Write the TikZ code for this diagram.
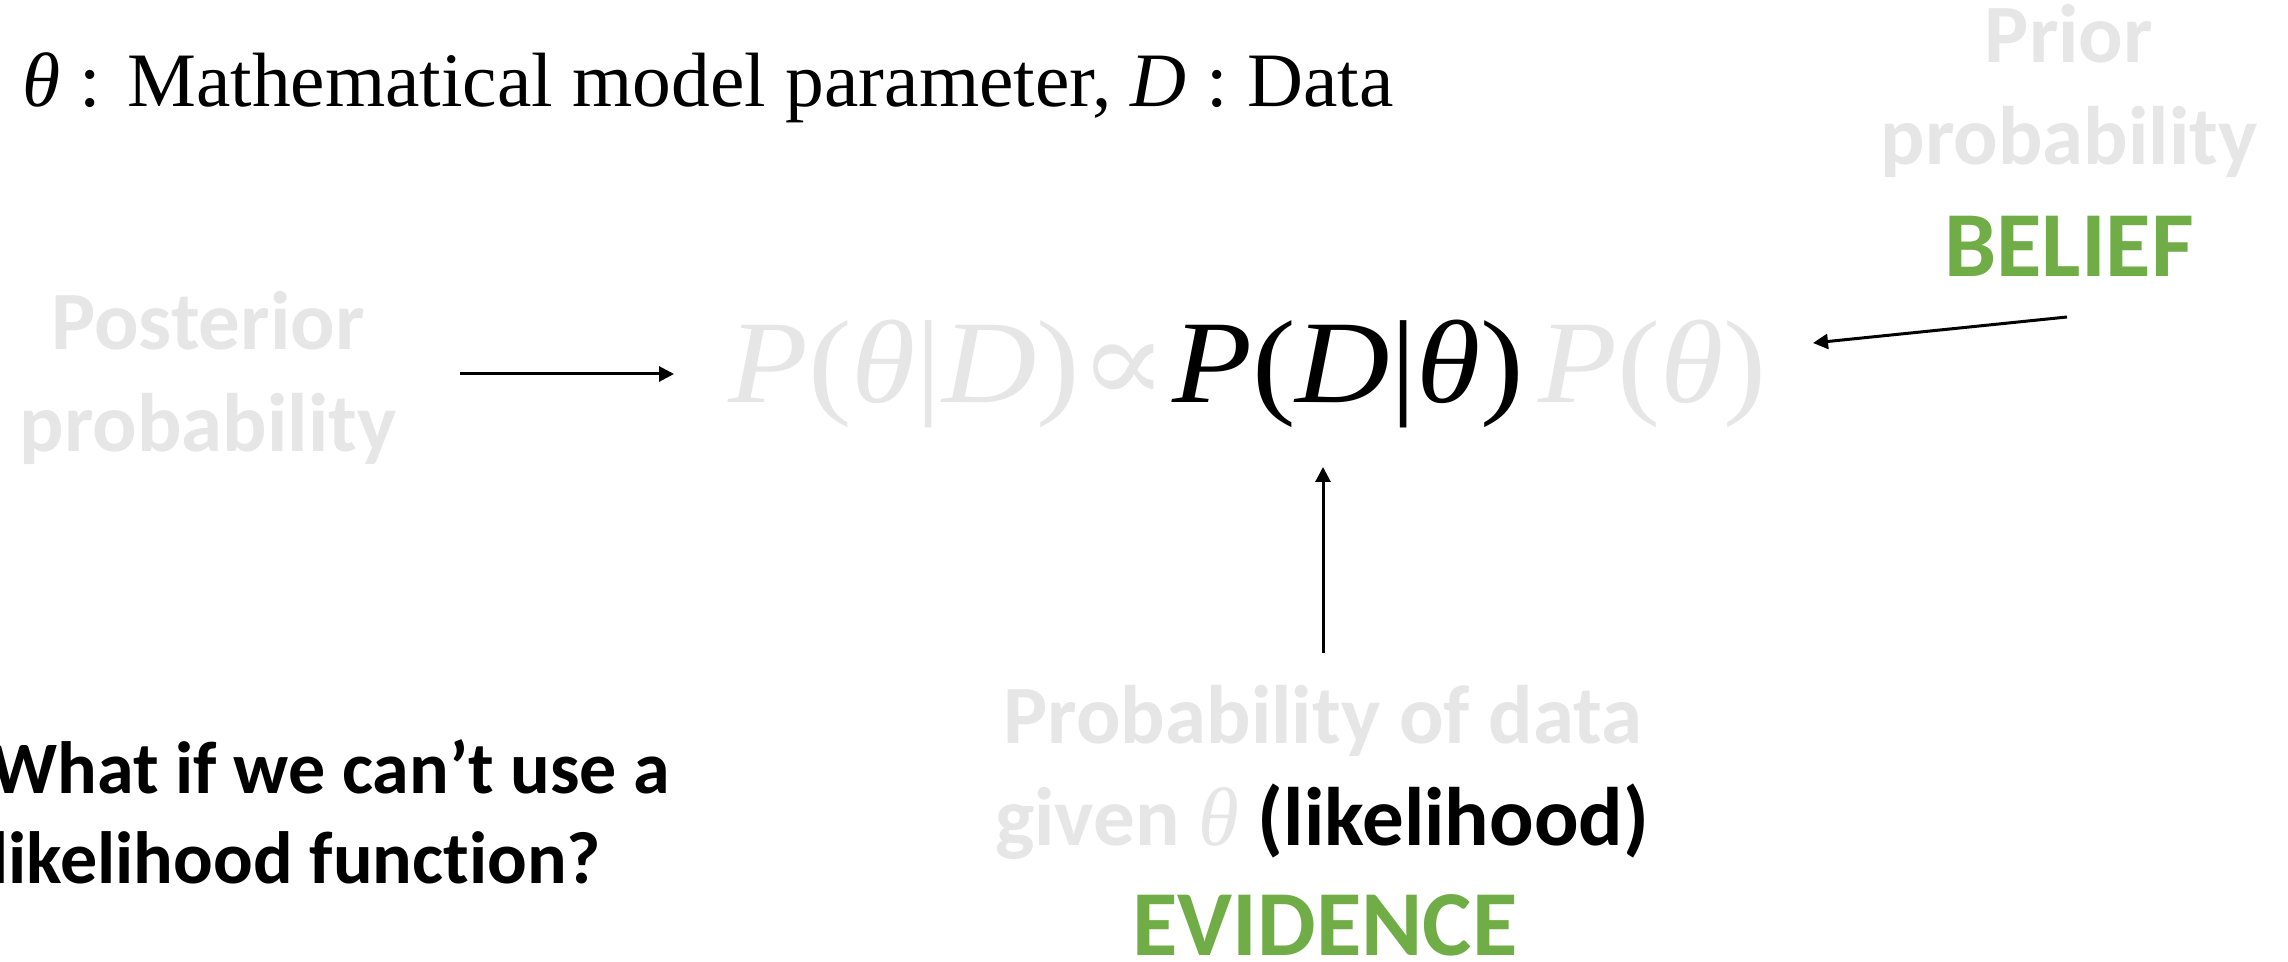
\documentclass[tikz,border=0pt]{standalone}
\usepackage{fontspec}
\usepackage{graphicx}
\setmainfont{Liberation Serif}
\newfontfamily\calib{Carlito}[Ligatures=NoCommon]
\newfontfamily\dvs{DejaVu Serif}
\usetikzlibrary{arrows.meta}
\definecolor{lgray}{HTML}{E6E6E6}
\definecolor{ogreen}{HTML}{70AD47}
\tikzset{
  txt/.style={inner sep=0pt, anchor=base},
  lbl/.style={txt, font=\calib\bfseries\fontsize{41.5}{50}\selectfont, text=lgray},
  grn/.style={txt, font=\calib\bfseries\fontsize{46.5}{56}\selectfont, text=ogreen},
  qst/.style={txt, anchor=base west, font=\calib\bfseries\fontsize{37}{45}\selectfont, text=black},
  frm/.style={txt, anchor=base west, font=\fontsize{59}{70}\selectfont},
  arr/.style={line width=1.5pt, -{Triangle[length=7.5pt,width=7.5pt]}}
}
\begin{document}
\begin{tikzpicture}[x=0.5pt,y=-0.5pt]
\useasboundingbox[fill=white] (0,0) rectangle (2288,962);

% top line
\node[txt, anchor=base west, font=\fontsize{38.5}{46}\selectfont] (top) at (22,107)
  {\resizebox{685.5pt}{\height}{\textit{θ} : Mathematical model parameter, \textit{D} : Data}};

% prior
\node[lbl] (prior1) at (2069,63) {Prior};
\node[lbl] (prior2) at (2069,165) {probability};
\node[grn] (belief) at (2069,277) {BELIEF};

% posterior
\node[lbl] (post1) at (208,350) {Posterior};
\node[lbl] (post2) at (208,452) {probability};

% formula
\node[frm, text=lgray] (f1) at (728,403)
  {\resizebox{220pt}{\height}{\textit{P}(\textit{θ}|\textit{D}){\dvs ∝}}};
\node[frm, text=black] (f2) at (1172,403)
  {\resizebox{176pt}{\height}{\textit{P}(\textit{D}|\textit{θ})}};
\node[frm, text=lgray] (f3) at (1538,403)
  {\resizebox{114pt}{\height}{\textit{P}(\textit{θ})}};

% likelihood
\node[lbl] (lik1) at (1323,743) {Probability of data};
\node[lbl] (lik2) at (1322,845) {given {\rmfamily\mdseries\itshape θ} \textcolor{black}{(likelihood)}};
\node[grn] (evid) at (1325,955) {EVIDENCE};

% question
\node[qst] (q1) at (-10,793) {What if we can’t use a};
\node[qst] (q2) at (-10,883) {likelihood function?};

% arrows
\coordinate (a1s) at (460,374);
\coordinate (a1e) at (674,374);
\coordinate (a2s) at (2067,317);
\coordinate (a2e) at (1813,343);
\coordinate (a3s) at (1323,653);
\coordinate (a3e) at (1323,467);
\draw[arr] (a1s) -- (a1e);
\draw[arr] (a2s) -- (a2e);
\draw[arr] (a3s) -- (a3e);
\end{tikzpicture}
\end{document}
